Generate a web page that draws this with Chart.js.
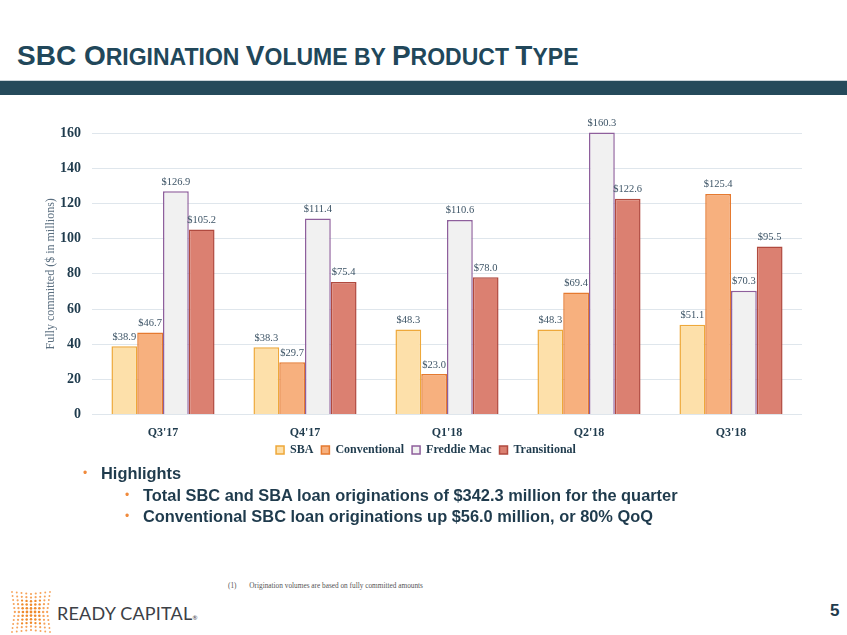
<!DOCTYPE html>
<html>
<head>
<meta charset="utf-8">
<script src="https://cdn.jsdelivr.net/npm/chart.js@4.4.0/dist/chart.umd.min.js"></script>
<style>
  html, body { margin: 0; padding: 0; background: #ffffff; }
  body { width: 847px; height: 635px; position: relative; overflow: hidden; font-family: "Liberation Sans", Arial, sans-serif; }
  .title { position: absolute; left: 17px; top: 41px; line-height: 30px; font-weight: bold; color: #21475a; white-space: nowrap; }
  .title .b { font-size: 28px; }
  .title .s { font-size: 23px; }
  .band { position: absolute; left: 0; top: 80px; width: 847px; height: 14px; background: #254a5b; border-top: 1px solid #c9d3d9; }
  #wrap { position: absolute; left: 0; top: 100px; width: 847px; height: 381px; }
  .hl { position: absolute; font-weight: bold; color: #1f3b4d; font-size: 16.4px; white-space: nowrap; line-height: 20px; }
  .dot { position: absolute; color: #f08a3c; font-size: 12px; line-height: 20px; }
  .foot { position: absolute; left: 228px; top: 581px; font-family: "Liberation Serif", serif; font-size: 7.3px; color: #555; white-space: nowrap; }
  .logo-text { position: absolute; left: 57px; top: 602px; font-family: "Lato", "Open Sans", sans-serif; font-size: 18px; letter-spacing: 0.2px; color: #3c4046; white-space: nowrap; }
  .logo-text sup { font-size: 6px; vertical-align: 0; }
  .page { position: absolute; left: 830px; top: 601px; font-weight: bold; font-size: 17px; color: #1f3b4d; }
</style>
</head>
<body>
<div class="title"><span class="b">SBC O</span><span class="s">RIGINATION </span><span class="b">V</span><span class="s">OLUME BY </span><span class="b">P</span><span class="s">RODUCT </span><span class="b">T</span><span class="s">YPE</span></div>
<div class="band"></div>
<div id="wrap"><canvas id="c" width="847" height="381"></canvas></div>

<div class="dot" style="left:83px; top:463px;">•</div>
<div class="hl" style="left:101px; top:463px;">Highlights</div>
<div class="dot" style="left:125px; top:485px;">•</div>
<div class="hl" style="left:143px; top:485px;">Total SBC and SBA loan originations of $342.3 million for the quarter</div>
<div class="dot" style="left:125px; top:506px;">•</div>
<div class="hl" style="left:143px; top:506px;">Conventional SBC loan originations up $56.0 million, or 80% QoQ</div>

<div class="foot">(1)&nbsp;&nbsp;&nbsp;&nbsp;&nbsp;&nbsp;&nbsp;Origination volumes are based on fully committed amounts</div>

<svg id="logo" style="position:absolute; left:8px; top:590px;" width="46" height="44"></svg>
<div class="logo-text">READY CAPITAL<sup>®</sup></div>
<div class="page">5</div>

<script>
// ---- data ----
const categories = ["Q3'17", "Q4'17", "Q1'18", "Q2'18", "Q3'18"];
const sba = [38.9, 38.3, 48.3, 48.3, 51.1];
const conventional = [46.7, 29.7, 23.0, 69.4, 125.4];
const freddieMac = [126.9, 111.4, 110.6, 160.3, 70.3];
const transitional = [105.2, 75.4, 78.0, 122.6, 95.5];
const yTicks = [0, 20, 40, 60, 80, 100, 120, 140, 160];

// ---- logo dots (decorative) ----
(function () {
  const svg = document.getElementById('logo');
  const ns = 'http://www.w3.org/2000/svg';
  const cols = 9, rows = 11;
  for (let i = 0; i < cols; i++) {
    const t = (i - (cols - 1) / 2) / ((cols - 1) / 2);
    const bulge = 1 - 0.25 * t * t;
    for (let j = 0; j < rows; j++) {
      const u = (j - (rows - 1) / 2) / ((rows - 1) / 2);
      const x = 23 + t * 19 * (0.85 + 0.15 * Math.abs(u));
      const y = 22 + u * 20 * (0.9 + 0.1 * Math.abs(t));
      const r = 1.1 * bulge * (1 - 0.3 * Math.abs(u)) + 0.3;
      const c = document.createElementNS(ns, 'circle');
      c.setAttribute('cx', x.toFixed(2));
      c.setAttribute('cy', y.toFixed(2));
      c.setAttribute('r', r.toFixed(2));
      c.setAttribute('fill', Math.abs(u) > 0.6 || Math.abs(t) > 0.7 ? '#f6a35a' : '#f08a2a');
      svg.appendChild(c);
    }
  }
})();

// ---- chart ----
const serif = '"Liberation Serif", "Times New Roman", serif';

const valueLabels = {
  id: 'valueLabels',
  afterDatasetsDraw(chart) {
    const ctx = chart.ctx;
    ctx.save();
    ctx.font = '10.5px ' + serif;
    ctx.fillStyle = '#3d5466';
    ctx.textAlign = 'center';
    ctx.textBaseline = 'bottom';
    chart.data.datasets.forEach((ds, di) => {
      const meta = chart.getDatasetMeta(di);
      meta.data.forEach((bar, i) => {
        ctx.fillText('$' + ds.data[i].toFixed(1), bar.x, bar.y - 4);
      });
    });
    ctx.restore();
  }
};

const legendShift = {
  id: 'legendShift',
  afterLayout(chart) {
    const lg = chart.legend;
    if (lg) { lg.left += 25; lg.right += 25; lg.top -= 15; lg.bottom -= 15; }
  }
};

new Chart(document.getElementById('c'), {
  type: 'bar',
  data: {
    labels: categories,
    datasets: [
      { label: 'SBA', data: sba, backgroundColor: '#fde0aa', borderColor: '#eea83a', borderWidth: 1.5 },
      { label: 'Conventional', data: conventional, backgroundColor: '#f7b07e', borderColor: '#e57a30', borderWidth: 1.5 },
      { label: 'Freddie Mac', data: freddieMac, backgroundColor: '#f1f1f1', borderColor: '#8e5f9c', borderWidth: 1.5 },
      { label: 'Transitional', data: transitional, backgroundColor: '#db8071', borderColor: '#b04a3f', borderWidth: 1.5 }
    ]
  },
  options: {
    responsive: false,
    animation: false,
    devicePixelRatio: 1,
    layout: { padding: { top: 33, right: 45, left: 0, bottom: 0 } },
    datasets: { bar: { categoryPercentage: 0.726, barPercentage: 1.0, clip: false } },
    scales: {
      x: {
        grid: { display: false, drawTicks: false },
        border: { display: false },
        ticks: { color: '#1f3b4d', font: { family: serif, size: 12, weight: 'bold' }, padding: 11 }
      },
      y: {
        min: 0, max: 160,
        afterBuildTicks(s) { s.ticks = yTicks.map(v => ({ value: v })); },
        grid: { color: '#dfe6ec', lineWidth: 1, drawTicks: false },
        border: { display: false },
        ticks: { color: '#1f3b4d', font: { family: serif, size: 14, weight: 'bold' }, padding: 11 },
        title: { display: true, text: 'Fully committed ($ in millions)', color: '#5b6f80', font: { family: serif, size: 12 }, padding: { top: 44 } },
        afterFit(s) { s.width = 92; }
      }
    },
    plugins: {
      legend: {
        position: 'bottom',
        labels: { color: '#1f3b4d', font: { family: serif, size: 12, weight: 'bold' }, boxWidth: 8, boxHeight: 8, padding: 8 }
      },
      tooltip: { enabled: false }
    }
  },
  plugins: [valueLabels, legendShift]
});
</script>
</body>
</html>
